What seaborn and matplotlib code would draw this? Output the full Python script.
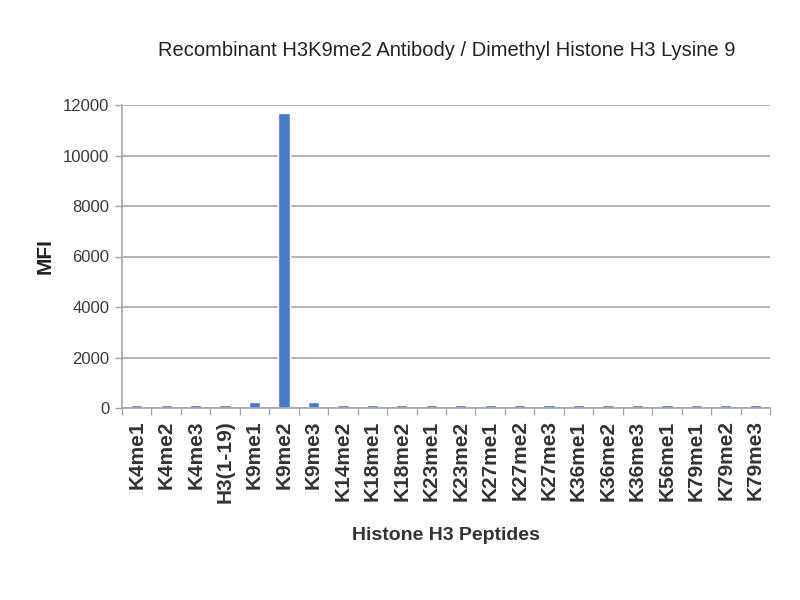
import matplotlib
matplotlib.use("Agg")
import matplotlib.pyplot as plt
import seaborn as sns
import pandas as pd

peptides = ["K4me1", "K4me2", "K4me3", "H3(1-19)", "K9me1", "K9me2", "K9me3",
            "K14me2", "K18me1", "K18me2", "K23me1", "K23me2", "K27me1", "K27me2",
            "K27me3", "K36me1", "K36me2", "K36me3", "K56me1", "K79me1", "K79me2", "K79me3"]
mfi = [100, 100, 100, 100, 220, 11700, 220, 100, 100, 100, 100, 100, 100, 100,
       100, 100, 100, 100, 100, 100, 100, 100]
yticks = [0, 2000, 4000, 6000, 8000, 10000, 12000]

sns.set_theme(style="white")
plt.rcParams['font.family'] = ['Liberation Sans', 'DejaVu Sans']

df = pd.DataFrame({"Peptide": peptides, "MFI": mfi})

fig = plt.figure(figsize=(8, 6), dpi=100)
ax = fig.add_axes([0.1525, 0.32, 0.81, 0.505])
sns.barplot(data=df, x="Peptide", y="MFI", color="#4A7BC8", width=0.38,
            saturation=1, ax=ax)

ax.set_ylim(0, 12000)
ax.set_yticks(yticks)
ax.set_yticklabels([str(v) for v in yticks], fontsize=12, color="#3a3a3a")
ax.yaxis.grid(True, color="#a6a6a6", linewidth=1.2)
ax.set_axisbelow(True)
ax.set_xlim(-0.5, len(peptides) - 0.5)

for s in ["top", "right"]:
    ax.spines[s].set_visible(False)
ax.spines["left"].set_color("#a6a6a6")
ax.spines["bottom"].set_color("#a6a6a6")
ax.spines["left"].set_linewidth(1.2)
ax.spines["bottom"].set_linewidth(1.2)

ax.set_xticks(range(len(peptides)))
ax.set_xticklabels(peptides, rotation=90, fontsize=15, fontweight="bold", color="#333333")
ax.tick_params(axis="x", which="major", length=0, pad=9)
ax.tick_params(axis="y", left=True, length=5, width=1, color="#a6a6a6", pad=4)
# minor ticks between categories
ax.set_xticks([i - 0.5 for i in range(len(peptides) + 1)], minor=True)
ax.tick_params(axis="x", which="minor", bottom=True, length=5, color="#a6a6a6", width=1)

ax.set_xlabel("Histone H3 Peptides", fontsize=14, fontweight="bold", labelpad=17, color="#333333")
ax.set_ylabel("MFI", fontsize=15, fontweight="bold", labelpad=6, color="#222222")
fig.text(0.559, 0.915, "Recombinant H3K9me2 Antibody / Dimethyl Histone H3 Lysine 9",
         ha="center", va="center", fontsize=14.5, color="#222222")

fig.savefig("out.png", dpi=100, facecolor="white")
